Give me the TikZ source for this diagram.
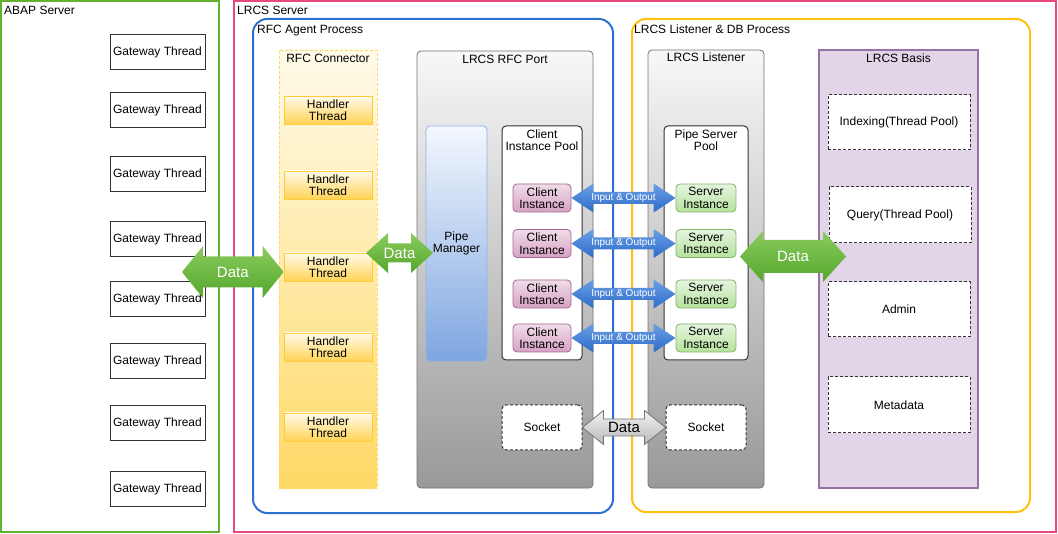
\documentclass[tikz,border=0pt]{standalone}
\usepackage{fontspec}
\setmainfont{Liberation Sans}
\usetikzlibrary{calc}

\definecolor{abapgreen}{HTML}{62B22F}
\definecolor{lrcspink}{HTML}{E8487A}
\definecolor{agentblue}{HTML}{2F6FD1}
\definecolor{procyellow}{HTML}{FFC010}
\definecolor{basisfill}{HTML}{E1D5E7}
\definecolor{basisline}{HTML}{9673A6}
\definecolor{hline}{HTML}{FFCB3D}
\definecolor{htop}{HTML}{FFFBEA}
\definecolor{hbot}{HTML}{FFD355}
\definecolor{connbot}{HTML}{FFD966}
\definecolor{pmline}{HTML}{8FB3E8}
\definecolor{pmtop}{HTML}{F4F8FE}
\definecolor{pmbot}{HTML}{7EA6E0}
\definecolor{ciline}{HTML}{A66A90}
\definecolor{citop}{HTML}{F0DCE8}
\definecolor{cibot}{HTML}{D6A2C4}
\definecolor{siline}{HTML}{82B366}
\definecolor{sitop}{HTML}{E6F4E0}
\definecolor{sibot}{HTML}{B5E29C}
\definecolor{garrtop}{HTML}{8CCB5E}
\definecolor{garrbot}{HTML}{52A72B}
\definecolor{barrtop}{HTML}{6A9FE6}
\definecolor{barrbot}{HTML}{2F6BC9}

% double-headed block arrow between two points at the height of the first one
% #1 style, #2 left tip, #3 right tip, #4 half shaft, #5 half head, #6 head length
\newcommand\fatarrow[6]{%
  \path[#1] let \p1=(#2), \p2=(#3) in
    (\x1,\y1) -- (\x1+#6pt,\y1+#5pt) -- (\x1+#6pt,\y1+#4pt) -- (\x2-#6pt,\y1+#4pt)
    -- (\x2-#6pt,\y1+#5pt) -- (\x2,\y1) -- (\x2-#6pt,\y1-#5pt) -- (\x2-#6pt,\y1-#4pt)
    -- (\x1+#6pt,\y1-#4pt) -- (\x1+#6pt,\y1-#5pt) -- cycle;}

\tikzset{
  every node/.style={inner sep=0pt, font=\fontsize{12}{12.5}\selectfont, align=center},
  frame/.style={draw, line width=2pt, minimum width=#1},
  titletext/.style={anchor=base west},
  headtext/.style={anchor=base},
  gwbox/.style={draw=black!80, line width=1pt, fill=white, minimum width=95pt, minimum height=35pt},
  hbox/.style={draw=hline, line width=0.8pt, top color=htop, bottom color=hbot,
               minimum width=88pt, minimum height=28pt},
  grayport/.style={draw=black!55, line width=0.8pt, rounded corners=4pt,
               top color=black!3, bottom color=black!40},
  poolbox/.style={draw=black!80, line width=1pt, fill=white, rounded corners=4pt},
  cibox/.style={draw=ciline, line width=0.8pt, rounded corners=4pt, top color=citop,
               bottom color=cibot, minimum width=58pt, minimum height=28pt},
  sibox/.style={draw=siline, line width=0.8pt, rounded corners=4pt, top color=sitop,
               bottom color=sibot, minimum width=60pt, minimum height=28pt},
  sockbox/.style={draw=black!80, line width=1pt, dash pattern=on 3pt off 2pt, fill=white,
               rounded corners=4pt, minimum width=80pt, minimum height=45pt},
  basisitem/.style={draw=black!80, line width=1pt, dash pattern=on 3pt off 2pt, fill=white,
               minimum width=142pt, minimum height=55pt},
  greenarrow/.style={top color=garrtop, bottom color=garrbot},
  bluearrow/.style={top color=barrtop, bottom color=barrbot},
  grayarrow/.style={draw=black!55, line width=0.8pt, top color=black!5, bottom color=black!28},
  whitetext/.style={text=white, font=\fontsize{15}{15}\selectfont},
  iotext/.style={text=white, font=\fontsize{10}{10}\selectfont},
}

\begin{document}
\begin{tikzpicture}[x=1pt,y=-1pt]
\useasboundingbox (0,0) rectangle (1058,534);

% outer servers
\node[frame=218pt, draw=abapgreen, minimum height=531pt] (abap) at (110,266.5) {};
\node[titletext] (abapT) at (4,14.5) {ABAP Server};
\node[frame=822pt, draw=lrcspink, minimum height=531pt] (lrcs) at (645,266.5) {};
\node[titletext] (lrcsT) at (237,14.5) {LRCS Server};

% processes
\node[frame=360pt, draw=agentblue, minimum height=494pt, rounded corners=14pt] (agent) at (433,266) {};
\node[titletext] (agentT) at (257,33.5) {RFC Agent Process};
\node[frame=398pt, draw=procyellow, minimum height=493pt, rounded corners=14pt] (listproc) at (831,265.5) {};
\node[titletext] (listprocT) at (634,33.5) {LRCS Listener \& DB Process};

% gateway threads
\foreach \i/\yy in {1/52,2/110,3/174,4/239,5/299,6/361,7/423,8/489}
  \node[gwbox] (g\i) at (157.5,\yy) {Gateway Thread};

% RFC connector with handler threads
\node[draw=connbot, line width=0.8pt, dash pattern=on 3pt off 2pt, top color=htop,
      bottom color=connbot, minimum width=98pt, minimum height=438pt] (conn) at (328,269) {};
\node[headtext] (connT) at (328,62.5) {RFC Connector};
\foreach \i/\yy in {1/110,2/185,3/267,4/347,5/427}
  \node[hbox] (h\i) at (328,\yy) {Handler\\Thread};

% LRCS RFC port
\node[grayport, minimum width=176pt, minimum height=437pt] (port) at (505,269.5) {};
\node[headtext] (portT) at (505,64) {LRCS RFC Port};
\node[draw=pmline, line width=0.8pt, rounded corners=4pt, top color=pmtop, bottom color=pmbot,
      minimum width=61pt, minimum height=235pt] (pipe) at (456.5,243.5) {Pipe\\Manager};
\node[poolbox, minimum width=80pt, minimum height=234pt] (cpool) at (542,243) {};
\node (cpoolT) at (542,140) {Client\\Instance Pool};
\foreach \i/\yy in {1/198,2/243.5,3/294,4/338}
  \node[cibox] (ci\i) at (542,\yy) {Client\\Instance};
\node[sockbox] (sockL) at (542,427.5) {Socket};

% LRCS listener
\node[grayport, minimum width=116pt, minimum height=438pt] (listener) at (706,269) {};
\node[headtext] (listenerT) at (706,62) {LRCS Listener};
\node[poolbox, minimum width=84pt, minimum height=234pt] (spool) at (706,243) {};
\node (spoolT) at (706,140) {Pipe Server\\Pool};
\foreach \i/\yy in {1/198,2/243.5,3/294,4/338}
  \node[sibox] (si\i) at (706,\yy) {Server\\Instance};
\node[sockbox] (sockR) at (706,427.5) {Socket};

% LRCS basis
\node[draw=basisline, line width=2pt, fill=basisfill, minimum width=159pt, minimum height=438pt] (basis) at (898.5,269) {};
\node[headtext] (basisT) at (898.5,63) {LRCS Basis};
\node[basisitem] (idx) at (899,122.5) {Indexing(Thread Pool)};
\node[basisitem, minimum height=56pt] (query) at (900,215) {Query(Thread Pool)};
\node[basisitem] (admin) at (899,309.5) {Admin};
\node[basisitem, minimum height=56pt] (meta) at (899,405) {Metadata};

% data flows
\coordinate (d1l) at (182,272);
\coordinate (d1r) at (h3.west |- d1l);
\fatarrow{greenarrow}{d1l}{d1r}{15.5}{26}{21}
\node[whitetext] (d1) at ($(d1l)!0.5!(d1r)$) {Data};

\coordinate (d2l) at (366,253);
\coordinate (d2r) at (433,253);
\fatarrow{greenarrow}{d2l}{d2r}{9.5}{20}{22}
\node[whitetext] (d2) at ($(d2l)!0.5!(d2r)$) {Data};

\coordinate (d3l) at (740,256.5);
\coordinate (d3r) at (846,256.5);
\fatarrow{greenarrow}{d3l}{d3r}{16.5}{25.5}{23}
\node[whitetext] (d3) at ($(d3l)!0.5!(d3r)$) {Data};

\foreach \i in {1,2,3,4}{
  \fatarrow{bluearrow}{ci\i.east}{si\i.west}{6}{14.5}{22}
  \node[iotext] (io\i) at ($(ci\i.east)!0.5!(si\i.west)$) {Input \& Output};
}

\fatarrow{grayarrow}{sockL.east}{sockR.west}{8.5}{17}{21}
\node[font=\fontsize{15}{15}\selectfont] (d4) at ($(sockL.east)!0.5!(sockR.west)$) {Data};
\end{tikzpicture}
\end{document}
